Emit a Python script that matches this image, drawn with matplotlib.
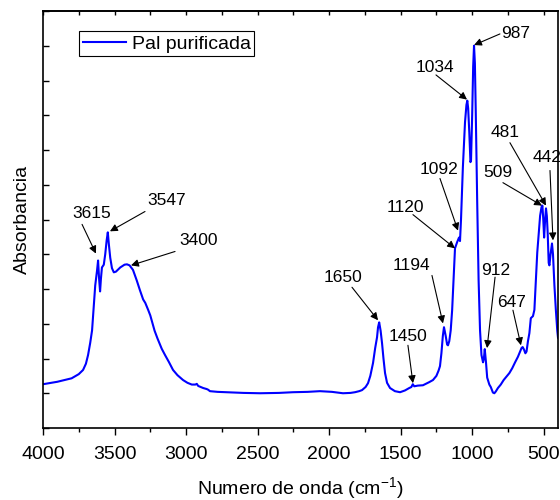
import numpy as np
import matplotlib
matplotlib.use("Agg")
import matplotlib.pyplot as plt

# espectro FTIR de la paligorskita purificada
wavenumber = [4000, 3900, 3800, 3750, 3720, 3700, 3685, 3670, 3657, 3645, 3635, 3622,
              3615, 3608, 3601, 3595, 3588, 3575, 3565, 3555, 3547, 3540, 3530, 3518,
              3505, 3490, 3460, 3430, 3413, 3395, 3371, 3345, 3322, 3300, 3285, 3265,
              3250, 3220, 3200, 3170, 3147, 3120, 3091, 3060, 3021, 2990, 2960, 2935,
              2925, 2915, 2880, 2855, 2845, 2833, 2780, 2714, 2600, 2483, 2350, 2252,
              2150, 2064, 1980, 1903, 1850, 1819, 1790, 1770, 1745, 1728, 1712, 1693,
              1678, 1665, 1658, 1650, 1640, 1630, 1620, 1609, 1595, 1574, 1540, 1504,
              1470, 1440, 1425, 1415, 1405, 1380, 1344, 1300, 1274, 1250, 1235, 1225,
              1215, 1205, 1197, 1185, 1175, 1169, 1160, 1150, 1140, 1130, 1120, 1105,
              1092, 1085, 1078, 1065, 1050, 1040, 1034, 1028, 1020, 1012, 1008, 1000,
              993, 987, 981, 975, 965, 955, 945, 935, 924, 918, 912, 908,
              903, 895, 880, 870, 855, 845, 835, 820, 800, 780, 760, 740,
              720, 700, 680, 665, 655, 647, 638, 628, 620, 610, 600, 590,
              575, 565, 555, 545, 535, 525, 515, 509, 503, 497, 490, 484,
              478, 472, 465, 460, 452, 442, 435, 425, 415, 405, 400]
absorbance = [0.126, 0.133, 0.143, 0.155, 0.167, 0.185, 0.210, 0.245, 0.281, 0.350, 0.410, 0.454,
              0.482, 0.430, 0.393, 0.430, 0.462, 0.470, 0.500, 0.540, 0.563, 0.530, 0.490, 0.460,
              0.448, 0.450, 0.462, 0.470, 0.471, 0.468, 0.455, 0.425, 0.396, 0.370, 0.360, 0.340,
              0.324, 0.280, 0.258, 0.228, 0.210, 0.190, 0.167, 0.152, 0.138, 0.130, 0.125, 0.125,
              0.127, 0.121, 0.115, 0.112, 0.110, 0.106, 0.104, 0.103, 0.101, 0.100, 0.101, 0.103,
              0.104, 0.106, 0.104, 0.100, 0.101, 0.103, 0.106, 0.109, 0.118, 0.129, 0.150, 0.187,
              0.230, 0.261, 0.290, 0.304, 0.280, 0.244, 0.200, 0.158, 0.130, 0.115, 0.106, 0.103,
              0.108, 0.115, 0.118, 0.126, 0.120, 0.122, 0.123, 0.132, 0.138, 0.150, 0.165, 0.178,
              0.215, 0.265, 0.290, 0.265, 0.240, 0.238, 0.250, 0.281, 0.339, 0.430, 0.517, 0.535,
              0.548, 0.538, 0.600, 0.750, 0.880, 0.930, 0.942, 0.920, 0.850, 0.765, 0.770, 0.900,
              1.040, 1.100, 1.050, 0.913, 0.655, 0.425, 0.281, 0.210, 0.189, 0.200, 0.227, 0.210,
              0.187, 0.145, 0.125, 0.118, 0.102, 0.100, 0.105, 0.115, 0.125, 0.138, 0.148, 0.158,
              0.172, 0.189, 0.205, 0.220, 0.230, 0.233, 0.226, 0.215, 0.220, 0.250, 0.273, 0.316,
              0.322, 0.340, 0.420, 0.505, 0.560, 0.611, 0.636, 0.640, 0.600, 0.548, 0.600, 0.632,
              0.610, 0.560, 0.475, 0.468, 0.500, 0.531, 0.500, 0.410, 0.340, 0.280, 0.260]

# etiquetas de los picos
peak_labels = ["3615", "3547", "3400", "1650", "1450", "1194", "1120", "1092",
               "1034", "987", "912", "647", "509", "481", "442"]

# posiciones de texto, inicio y punta de flecha (cm-1, abs)
label_layout = {
    "3615": ((3657, 0.617), (3727, 0.586), (3630, 0.502)),
    "3547": ((3133, 0.655), (3287, 0.623), (3532, 0.566)),
    "3400": ((2910, 0.540), (3077, 0.508), (3385, 0.468)),
    "1650": ((1903, 0.434), (1840, 0.405), (1658, 0.310)),
    "1450": ((1449, 0.264), (1449, 0.238), (1414, 0.129)),
    "1194": ((1428, 0.468), (1281, 0.439), (1204, 0.301)),
    "1120": ((1470, 0.634), (1414, 0.614), (1120, 0.517)),
    "1092": ((1232, 0.744), (1225, 0.718), (1099, 0.568)),
    "1034": ((1260, 1.036), (1253, 1.016), (1036, 0.945)),
    "987":  ((694, 1.134), (806, 1.134), (987, 1.102)),
    "912":  ((833, 0.454), (840, 0.434), (896, 0.230)),
    "647":  ((722, 0.362), (715, 0.339), (659, 0.238)),
    "509":  ((820, 0.735), (785, 0.706), (512, 0.640)),
    "481":  ((771, 0.850), (736, 0.821), (484, 0.640)),
    "442":  ((477, 0.778), (456, 0.741), (435, 0.540)),
}

plt.rcParams['font.family'] = ['Liberation Sans', 'DejaVu Sans']
plt.rcParams['mathtext.default'] = 'regular'

fig = plt.figure(figsize=(5.6, 5.0), dpi=100)
ax = fig.add_axes([43 / 560, 72 / 500, 515 / 560, 417 / 500])

ax.plot(wavenumber, absorbance, color='#0000ff', lw=1.5, label='Pal purificada')

for lab in peak_labels:
    txt, start, tip = label_layout[lab]
    ax.annotate('', xy=tip, xytext=start,
                arrowprops=dict(arrowstyle='-|>', color='k', lw=0.8,
                                mutation_scale=11, shrinkA=0, shrinkB=0))
    ax.text(txt[0], txt[1], lab, fontsize=12.5, ha='center', va='center', clip_on=False)

ax.set_xlim(4000, 400)
ax.set_ylim(0, 1.2)
ax.set_xticks(np.arange(4000, 400, -500))
ax.set_xticks(np.arange(3750, 400, -500), minor=True)
ax.set_yticks(np.arange(0, 1.21, 0.1))
ax.set_yticklabels([])
ax.tick_params(axis='x', which='major', direction='out', length=5, width=1, labelsize=14, pad=8)
ax.tick_params(axis='x', which='minor', direction='out', length=3, width=1)
ax.tick_params(axis='y', direction='in', length=4, width=1)

top = ax.secondary_xaxis('top')
top.set_xticks(np.arange(4000, 400, -250))
top.tick_params(direction='in', length=3, width=1, labeltop=False)

for sp in ax.spines.values():
    sp.set_linewidth(1.2)
top.spines['top'].set_linewidth(1.2)

ax.set_xlabel('Numero de onda (cm$^{-1}$)', fontsize=14, labelpad=9)
ax.set_ylabel('Absorbancia', fontsize=14, labelpad=5)

leg = ax.legend(loc='upper left', bbox_to_anchor=(0.07, 0.952), fontsize=14,
                frameon=True, fancybox=False, edgecolor='k', framealpha=1,
                handlelength=2.2, handletextpad=0.3, borderpad=0.2, borderaxespad=0)
leg.get_frame().set_linewidth(0.8)

fig.savefig('out.png', dpi=100)
